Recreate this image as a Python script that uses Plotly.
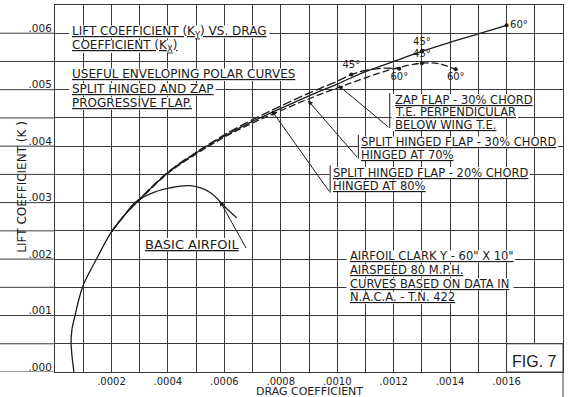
import plotly.graph_objects as go

# ---------------- data ----------------
basic_x = [0.000067, 0.000057, 0.000060, 0.000071, 0.000098, 0.000148, 0.0002, 0.00025,
           0.000283, 0.00035, 0.000407, 0.00048, 0.00055, 0.000605, 0.000644]
basic_y = [0.0, 0.0005, 0.00075, 0.001, 0.00151, 0.00201, 0.00248, 0.0028,
           0.0030, 0.00318, 0.00326, 0.0033, 0.00318, 0.00291, 0.00273]

zap_x = [0.0002, 0.00025, 0.0003, 0.0004, 0.0005, 0.0006, 0.0007, 0.0008, 0.0009,
         0.001, 0.0011, 0.0012, 0.0013, 0.0014, 0.0015, 0.0016]
zap_y = [0.00248, 0.0028, 0.00306, 0.00353, 0.00388, 0.00418, 0.00444, 0.00467, 0.00489,
         0.0051, 0.00532, 0.0055, 0.00568, 0.00584, 0.00599, 0.00614]

split20_x = [0.0002, 0.00025, 0.0003, 0.0004, 0.0005, 0.0006, 0.0007, 0.0008, 0.0009,
             0.001, 0.00105, 0.0011, 0.00116, 0.00122]
split20_y = [0.00248, 0.0028, 0.00306, 0.00354, 0.00389, 0.0042, 0.00447, 0.00471, 0.00494,
             0.00515, 0.00527, 0.00534, 0.00538, 0.00537]

split30_x = [0.0002, 0.00025, 0.0003, 0.0004, 0.0005, 0.0006, 0.0007, 0.0008, 0.0009,
             0.001, 0.0011, 0.0012, 0.0013, 0.00136, 0.00142]
split30_y = [0.00248, 0.0028, 0.00305, 0.00352, 0.00386, 0.00416, 0.00441, 0.00463, 0.00484,
             0.00503, 0.00521, 0.00537, 0.00547, 0.00546, 0.00536]

# flap-angle marks
zap_deg_x = [0.0013, 0.0016]
zap_deg_y = [0.00568, 0.00614]
split20_deg_x = [0.00105, 0.00122]
split20_deg_y = [0.00527, 0.00537]
split30_deg_x = [0.0013, 0.00142]
split30_deg_y = [0.00547, 0.00536]
deg_labels = ["45°", "60°"]

x_tick_vals = [0.0, 0.0001, 0.0002, 0.0003, 0.0004, 0.0005, 0.0006, 0.0007, 0.0008, 0.0009,
               0.0010, 0.0011, 0.0012, 0.0013, 0.0014, 0.0015, 0.0016, 0.0017, 0.0018]
x_tick_text = ["", "", ".0002", "", ".0004", "", ".0006", "", ".0008", "",
               ".0010", "", ".0012", "", ".0014", "", ".0016", "", ""]
y_tick_vals = [0.0, 0.0005, 0.001, 0.0015, 0.002, 0.0025, 0.003, 0.0035,
               0.004, 0.0045, 0.005, 0.0055, 0.006, 0.0065]
y_tick_text = [".000", "", ".001", "", ".002", "", ".003", "",
               ".004", "", ".005", "", ".006", ""]

# text blocks: (x, [(y, line), ...], font size)
title_block = (0.0000566, [(0.00603, "LIFT COEFFICIENT (K<sub>Y</sub>) VS. DRAG"),
                           (0.00577, "COEFFICIENT (K<sub>X</sub>)")], 12)
useful_block = (0.0000566, [(0.00527, "USEFUL ENVELOPING POLAR CURVES"),
                            (0.00501, "SPLIT HINGED AND ZAP"),
                            (0.00476, "PROGRESSIVE FLAP.")], 12)
zap_block = (0.00120, [(0.00482, "ZAP FLAP - 30% CHORD"),
                       (0.00460, "T.E. PERPENDICULAR"),
                       (0.00438, "BELOW WING T.E.")], 11.5)
split30_block = (0.00108, [(0.00407, "SPLIT HINGED FLAP - 30% CHORD"),
                           (0.00385, "HINGED AT 70%")], 11.5)
split20_block = (0.00098, [(0.00353, "SPLIT HINGED FLAP - 20% CHORD"),
                           (0.00330, "HINGED AT 80%")], 11.5)
basic_block = (0.000315, [(0.00226, "BASIC AIRFOIL")], 13)
note_block = (0.00104, [(0.00205, "AIRFOIL CLARK Y - 60\" X 10\""),
                        (0.00180, "AIRSPEED 80 M.P.H."),
                        (0.00156, "CURVES BASED ON DATA IN"),
                        (0.00132, "N.A.C.A. - T.N. 422")], 11.5)

INK = "#1c1c1c"
GRID = "#3a3a3a"
FONT = "DejaVu Sans"

X_RANGE = [0, 0.0018]
Y_RANGE = [0, 0.0065]
W, H = 569, 397
ML, MR, MT, MB = 55, 6, 5, 25
PX_X = (X_RANGE[1] - X_RANGE[0]) / (W - ML - MR)   # data units per pixel
PX_Y = (Y_RANGE[1] - Y_RANGE[0]) / (H - MT - MB)

# approximate DejaVu Sans advance widths (em) for estimating label backgrounds
CHAR_W = {" ": 0.318, ".": 0.318, "-": 0.361, "%": 0.95, "(": 0.39, ")": 0.39, '"': 0.46,
          "A": 0.684, "B": 0.686, "C": 0.698, "D": 0.77, "E": 0.632, "F": 0.575, "G": 0.775,
          "H": 0.752, "I": 0.295, "K": 0.656, "L": 0.557, "M": 0.863, "N": 0.748, "O": 0.787,
          "P": 0.603, "R": 0.695, "S": 0.635, "T": 0.611, "U": 0.732, "V": 0.684, "W": 0.989,
          "X": 0.685, "Y": 0.611, "Z": 0.685}


def text_em(text):
    plain = text.replace("<sub>", "\x01").replace("</sub>", "\x02")
    total, scale = 0.0, 1.0
    for ch in plain:
        if ch == "\x01":
            scale = 0.7
        elif ch == "\x02":
            scale = 1.0
        else:
            total += CHAR_W.get(ch, 0.636) * scale
    return total


fig = go.Figure()

fig.add_trace(go.Scatter(x=basic_x, y=basic_y, mode="lines", line=dict(color=INK, width=1.3, shape="spline"),
                         name="Basic airfoil"))
fig.add_trace(go.Scatter(x=split30_x, y=split30_y, mode="lines",
                         line=dict(color=INK, width=1.3, dash="7px,3px", shape="spline"), name="Split 30%"))
fig.add_trace(go.Scatter(x=split20_x, y=split20_y, mode="lines",
                         line=dict(color=INK, width=1.3, dash="9px,3px", shape="spline"), name="Split 20%"))
fig.add_trace(go.Scatter(x=zap_x, y=zap_y, mode="lines", line=dict(color=INK, width=1.3, shape="spline"),
                         name="Zap flap"))

fig.add_trace(go.Scatter(x=zap_deg_x, y=zap_deg_y, mode="markers+text", text=deg_labels,
                         textposition=["top center", "middle right"],
                         marker=dict(color=INK, size=4), textfont=dict(size=10, color=INK, family=FONT)))
fig.add_trace(go.Scatter(x=split20_deg_x, y=split20_deg_y, mode="markers+text", text=deg_labels,
                         textposition=["top center", "bottom center"],
                         marker=dict(color=INK, size=4), textfont=dict(size=10, color=INK, family=FONT)))
fig.add_trace(go.Scatter(x=split30_deg_x, y=split30_deg_y, mode="markers+text", text=deg_labels,
                         textposition=["top center", "bottom center"],
                         marker=dict(color=INK, size=4), textfont=dict(size=10, color=INK, family=FONT)))


def add_block(block):
    x, lines, size = block
    for y, text in lines:
        wpx = text_em(text) * size
        fig.add_shape(type="rect", xref="x", yref="y", layer="between",
                      x0=x - 2 * PX_X, x1=x + (wpx + 3) * PX_X,
                      y0=y - 0.55 * size * PX_Y, y1=y + 0.5 * size * PX_Y,
                      fillcolor="white", line=dict(width=0))
        fig.add_annotation(x=x, y=y, xref="x", yref="y", text="<u>" + text + "</u>", showarrow=False,
                           xanchor="left", yanchor="middle", borderpad=0,
                           font=dict(family=FONT, size=size, color=INK))


def leader(x0, y0, x1, y1):
    fig.add_annotation(x=x1, y=y1, ax=x0, ay=y0, xref="x", yref="y", axref="x", ayref="y",
                       text="", showarrow=True, arrowhead=2, arrowsize=1, arrowwidth=1,
                       arrowcolor=INK)


for b in [title_block, useful_block, zap_block, split30_block, split20_block, basic_block, note_block]:
    add_block(b)

# box edges and leader lines
for (xb, yb0, yb1) in [(0.001186, 0.00494, 0.004320), (0.001075, 0.0042, 0.003780), (0.000975, 0.00366, 0.003175)]:
    fig.add_shape(type="line", xref="x", yref="y", x0=xb, x1=xb, y0=yb0, y1=yb1, line=dict(color=INK, width=1))
leader(0.001186, 0.004320, 0.001003, 0.00508)
leader(0.001075, 0.003780, 0.000896, 0.00481)
leader(0.000975, 0.003175, 0.000768, 0.00463)
leader(0.00068, 0.002169, 0.000584, 0.00303)

# FIG. 7 box
fig.add_shape(type="rect", xref="x", yref="y", x0=x_tick_vals[16], x1=x_tick_vals[18],
              y0=y_tick_vals[0], y1=y_tick_vals[1], fillcolor="white", line=dict(color=GRID, width=1),
              layer="above")
fig.add_annotation(x=(x_tick_vals[16] + x_tick_vals[18]) / 2, y=y_tick_vals[1] / 2.6, xref="x", yref="y",
                   text="FIG. 7", showarrow=False, font=dict(family="Liberation Sans", size=16, color=INK))

# grid lines extending through the label column
for yv in y_tick_vals[:-1]:
    fig.add_shape(type="line", xref="paper", yref="y", x0=-0.11, x1=0, y0=yv, y1=yv,
                  line=dict(color=GRID, width=1))
fig.add_shape(type="line", xref="paper", yref="paper", x0=1, x1=1, y0=-0.08, y1=0,
              line=dict(color=GRID, width=1))

# axis titles
fig.add_annotation(xref="paper", yref="paper", x=0.5, y=-0.052, xanchor="center", yanchor="middle",
                   showarrow=False, text="DRAG COEFFICIENT", font=dict(family=FONT, size=11, color=INK))
fig.add_annotation(xref="paper", yref="paper", x=-0.065, y=0.505, xanchor="center", yanchor="middle",
                   textangle=-90, showarrow=False,
                   text="LIFT COEFFICIENT (K )", font=dict(family=FONT, size=12, color=INK))

fig.update_xaxes(range=X_RANGE, tickmode="array", tickvals=x_tick_vals, ticktext=x_tick_text,
                 showgrid=True, gridcolor=GRID, gridwidth=1, zeroline=False, showline=True,
                 linecolor=GRID, linewidth=1, mirror=True, ticks="",
                 tickfont=dict(family=FONT, size=10, color=INK))
fig.update_yaxes(range=Y_RANGE, tickmode="array", tickvals=y_tick_vals, ticktext=y_tick_text,
                 showgrid=True, gridcolor=GRID, gridwidth=1, zeroline=False, showline=True,
                 linecolor=GRID, linewidth=1, mirror=True, ticks="", ticklabelshift=-5,
                 tickfont=dict(family=FONT, size=10.5, color=INK))

fig.update_layout(width=W, height=H, margin=dict(l=ML, r=MR, t=MT, b=MB),
                  paper_bgcolor="white", plot_bgcolor="white", showlegend=False)

fig.write_html("out.html", config={"displayModeBar": False},
               post_script="document.body.style.margin='0';document.body.style.padding='0';")
